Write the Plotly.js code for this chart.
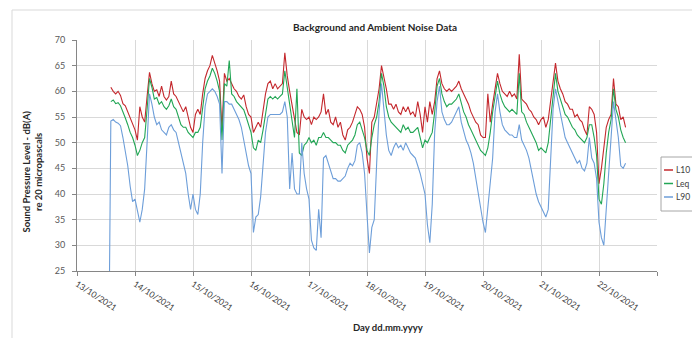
<!DOCTYPE html>
<html>
<head>
<meta charset="utf-8">
<script src="https://cdn.plot.ly/plotly-3.0.1.min.js"></script>
<style>
  html, body { margin: 0; padding: 0; background: #fff; }
  #chart { width: 692px; height: 338px; }
</style>
</head>
<body>
<div id="chart"></div>
<script>
// Hourly noise levels, dB(A), first sample 13/10/2021 13:00
const startTime = '2021-10-13T13:00:00';
const stepHours = 1;

const seriesNames = ['L10', 'Leq', 'L90'];

const l10 = [
  // 13/10 13:00-23:00
  null, 60.8, 60.0, 59.5, 60.0, 59.2, 57.6, 57.2, 56.0, 54.5, 53.5,
  // 14/10
  52.5, 50.5, 57.0, 55.0, 54.0, 59.0, 63.7, 61.5, 60.0, 60.3, 59.0, 61.0,
  59.0, 58.3, 59.0, 62.0, 59.5, 59.0, 58.0, 57.0, 56.0, 57.0, 55.0, 53.0,
  // 15/10
  52.0, 55.5, 56.5, 55.5, 59.5, 62.5, 64.0, 65.0, 67.0, 65.5, 64.0, 62.0,
  52.5, 63.5, 62.0, 62.5, 61.5, 60.5, 60.0, 59.0, 58.5, 59.3, 57.0, 55.5,
  // 16/10
  55.0, 52.0, 53.0, 54.0, 53.0, 56.5, 59.5, 61.5, 62.0, 60.5, 61.5, 60.5,
  61.0, 61.5, 67.5, 63.0, 60.0, 57.5, 55.0, 52.0, 51.5, 56.5, 55.0, 54.5,
  // 17/10
  55.0, 53.5, 55.0, 54.5, 55.0, 56.0, 59.5, 55.5, 56.5, 54.0, 53.5, 55.0,
  53.0, 54.0, 51.5, 50.5, 52.5, 53.0, 54.0, 55.5, 57.0, 56.5, 55.5, 53.0,
  // 18/10
  47.0, 44.0, 54.0, 55.0, 57.5, 60.5, 65.0, 63.0, 60.5, 57.5, 57.5, 56.5,
  57.5, 56.0, 55.5, 57.0, 56.0, 57.0, 55.5, 56.0, 55.0, 58.0, 55.5, 52.0,
  // 19/10
  57.0, 54.0, 58.0, 55.5, 58.0, 62.5, 64.0, 61.5, 60.5, 60.0, 60.5, 60.0,
  60.5, 61.0, 62.0, 60.5, 59.5, 58.5, 57.5, 56.0, 55.0, 54.0, 53.5, 51.5,
  // 20/10
  51.0, 51.0, 59.5, 54.0, 57.5, 61.0, 63.5, 61.5, 60.0, 59.5, 59.0, 60.0,
  59.0, 59.5, 58.5, 67.2, 58.5, 58.0, 57.5, 56.5, 56.0, 55.0, 54.5, 53.5,
  // 21/10
  54.5, 55.0, 53.0, 54.5, 58.5, 62.0, 65.5, 62.0, 60.5, 59.5, 58.0, 57.5,
  56.5, 56.5, 55.0, 55.5, 54.5, 54.0, 52.5, 51.5, 57.0, 56.5, 55.5, 52.0,
  // 22/10 00:00-11:00
  42.0, 45.0, 49.0, 53.0, 54.5, 55.5, 62.5, 57.5, 57.0, 54.5, 55.0, 53.0
];

const leq = [
  // 13/10 13:00-23:00
  null, 58.0, 58.3, 57.6, 57.8, 57.2, 55.8, 54.8, 53.5, 52.0, 51.0,
  // 14/10
  49.5, 47.5, 48.5, 50.0, 51.0, 56.5, 62.5, 60.8, 58.5, 58.8, 57.5, 58.0,
  57.0, 56.5, 57.2, 58.5, 57.0, 56.5, 55.0, 53.5, 53.0, 53.0, 52.0, 51.5,
  // 15/10
  51.0, 52.0, 52.0, 53.0, 57.0, 60.5, 62.0, 63.0, 64.5, 63.5, 62.0, 60.0,
  50.5, 61.5, 61.0, 66.0, 59.5, 59.0, 58.0, 57.5, 57.0, 56.4, 55.0, 53.5,
  // 16/10
  52.0, 49.0, 48.5, 50.5, 50.0, 52.5, 56.0, 58.5, 59.0, 58.5, 59.0, 58.5,
  59.0, 59.5, 64.0, 60.5, 57.0, 54.0, 51.0, 60.5, 48.0, 47.5, 49.5, 50.0,
  // 17/10
  51.0, 50.0, 50.5, 49.5, 51.0, 51.0, 52.0, 51.0, 51.0, 50.5, 50.0, 50.0,
  49.5, 49.5, 48.5, 48.0, 49.5, 50.0, 50.5, 51.5, 53.5, 54.0, 52.5, 51.0,
  // 18/10
  48.5, 47.5, 51.0, 53.5, 55.0, 58.0, 63.5, 61.0, 57.0, 55.0, 54.0, 53.5,
  53.0, 52.5, 52.0, 53.5, 52.5, 53.0, 52.0, 52.0, 52.5, 53.0, 51.0, 49.0,
  // 19/10
  50.5, 50.0, 51.0, 52.0, 56.0, 61.0, 62.5, 59.5, 58.0, 57.0, 57.5, 57.5,
  58.0, 58.5, 59.5, 57.5, 56.0, 55.0, 53.5, 52.5, 51.5, 50.5, 49.5, 48.5,
  // 20/10
  48.0, 47.5, 49.0, 52.0, 56.0, 59.5, 62.0, 59.5, 58.0, 57.0, 56.5, 56.0,
  56.5, 56.0, 55.5, 63.5, 56.0, 55.5, 54.0, 53.0, 52.0, 51.0, 50.0, 48.5,
  // 21/10
  49.0, 48.5, 48.0, 50.0, 55.0, 60.0, 63.5, 60.0, 58.5, 57.0, 55.5, 55.0,
  54.0, 53.0, 52.5, 51.5, 51.0, 50.5, 50.0, 51.0, 53.5, 53.5, 51.0, 47.5,
  // 22/10 00:00-11:00
  39.0, 38.0, 42.0, 48.0, 52.0, 54.5, 60.5, 56.5, 55.0, 52.5, 51.0, 50.0
];

const l90 = [
  // 13/10 13:00-23:00
  0, 54.2, 54.5, 54.0, 53.8, 53.3, 51.0, 48.5, 45.5, 41.5, 38.5,
  // 14/10
  39.0, 36.5, 34.5, 37.0, 41.0, 50.0, 59.5, 57.5, 55.0, 53.5, 54.0, 52.5,
  52.0, 51.5, 53.0, 53.5, 52.5, 52.0, 50.0, 48.0, 46.0, 44.0, 40.0, 37.0,
  // 15/10
  40.0, 37.0, 36.0, 40.0, 50.0, 57.0, 59.5, 60.0, 60.5, 60.0, 59.0, 57.5,
  44.0, 58.0, 58.0, 57.5, 57.5, 56.5, 55.5, 54.5, 53.0, 50.5, 48.5, 45.5,
  // 16/10
  44.0, 32.5, 35.5, 36.0, 39.5, 45.0, 52.0, 55.0, 55.5, 55.5, 55.5, 55.5,
  55.5, 56.0, 58.0, 55.0, 41.0, 48.0, 41.0, 40.0, 40.0, 50.0, 44.0, 41.0,
  // 17/10
  39.0, 31.0, 29.5, 29.0, 37.0, 31.5, 47.0, 47.5, 46.0, 44.5, 43.0, 43.0,
  42.5, 42.5, 43.0, 43.5, 45.0, 46.0, 45.5, 46.5, 49.5, 50.0, 48.0, 44.0,
  // 18/10
  36.0, 28.5, 33.5, 35.0, 46.0, 56.0, 61.5, 56.0, 51.5, 48.5, 47.5, 49.0,
  50.0, 49.0, 49.5, 48.5, 50.0, 49.0, 48.0, 47.5, 47.0, 45.5, 44.0, 42.0,
  // 19/10
  40.0, 34.0, 30.5, 38.0, 52.0, 58.0, 61.0, 56.0, 54.5, 53.5, 53.5, 54.0,
  55.0, 56.0, 57.0, 54.0, 52.0, 50.5, 49.5, 48.0, 46.0, 43.0, 40.0, 37.0,
  // 20/10
  34.5, 32.5, 37.5, 41.5, 47.0, 56.0, 59.5, 56.0, 53.5, 52.5, 52.0, 51.5,
  51.5, 51.0, 51.0, 53.5, 50.5, 49.5, 48.5, 47.0, 44.5, 42.0, 40.0, 38.5,
  // 21/10
  37.5, 36.5, 35.5, 37.0, 46.0, 56.5, 60.5, 58.0, 56.0, 53.0, 51.0, 50.0,
  49.0, 48.0, 47.0, 46.0, 46.5, 45.0, 44.5, 46.0, 51.0, 47.0, 46.0, 43.0,
  // 22/10 00:00-11:00
  34.5, 31.5, 30.0, 37.0, 43.0, 52.0, 58.0, 54.5, 51.0, 45.5, 45.0, 46.0
];

const seriesColors = ['#c4282d', '#22a655', '#6d9ed9'];

// Sample times on the hourly grid
function sampleTimes(n) {
  const t0 = new Date(startTime + 'Z').getTime();
  const out = [];
  for (let i = 0; i < n; i++) {
    out.push(new Date(t0 + i * stepHours * 3600000).toISOString().slice(0, 19).replace('T', ' '));
  }
  return out;
}
const times = sampleTimes(l10.length);

const values = [l10, leq, l90];
const traces = values.map((v, i) => ({
  type: 'scatter',
  mode: 'lines',
  name: seriesNames[i],
  x: times,
  y: v,
  line: { color: seriesColors[i], width: 1.1 },
  showlegend: false,
  hoverinfo: 'x+y+name'
}));

// plot area in pixels: x 77..657, y 40..271
const px = p => (p - 77) / 580;
const py = p => (271 - p) / 231;

const FONT = 'Lato, sans-serif';

const shapes = [
  // outer chart frame
  { type: 'rect', xref: 'paper', yref: 'paper', x0: px(12), x1: px(760), y0: py(400), y1: py(10),
    line: { color: '#d9d9d9', width: 1 }, layer: 'below' },
  // legend frame
  { type: 'rect', xref: 'paper', yref: 'paper', x0: px(661), x1: px(760), y0: py(211), y1: py(157),
    line: { color: '#a6a6a6', width: 1 }, fillcolor: '#ffffff' }
];
const legendRows = [170, 183.5, 197];
const annotations = [
  // axis titles
  { xref: 'paper', yref: 'paper', x: px(388), y: py(327), xanchor: 'center', yanchor: 'middle',
    text: '<b>Day dd.mm.yyyy</b>', showarrow: false,
    font: { family: FONT, size: 9.5, color: '#262626' } },
  { xref: 'paper', yref: 'paper', x: px(31.5), y: py(172), xanchor: 'center', yanchor: 'middle',
    text: '<b>Sound Pressure Level - dB(A)<br>re 20 micropascals</b>', showarrow: false, textangle: -90,
    font: { family: FONT, size: 9.5, color: '#262626' } }
];
seriesNames.forEach((name, i) => {
  shapes.push({ type: 'line', xref: 'paper', yref: 'paper', x0: px(664), x1: px(673),
    y0: py(legendRows[i]), y1: py(legendRows[i]), line: { color: seriesColors[i], width: 1.5 } });
  annotations.push({ xref: 'paper', yref: 'paper', x: px(674), y: py(legendRows[i]),
    xanchor: 'left', yanchor: 'middle', text: name, showarrow: false,
    font: { family: FONT, size: 8.5, color: '#404040' } });
});

const layout = {
  width: 692,
  height: 338,
  margin: { l: 77, r: 35, t: 40, b: 67 },
  paper_bgcolor: '#ffffff',
  plot_bgcolor: '#ffffff',
  font: { family: FONT, color: '#404040' },
  title: {
    text: '<b>Background and Ambient Noise Data</b>',
    font: { family: FONT, size: 10, color: '#262626' },
    x: px(375), xref: 'paper', xanchor: 'center',
    y: 1 - 27 / 338, yref: 'container', yanchor: 'middle'
  },
  xaxis: {
    type: 'date',
    range: ['2021-10-13 00:00', '2021-10-23 00:00'],
    tick0: '2021-10-13',
    dtick: 86400000,
    tickformat: '%d/%m/%Y',
    tickangle: 33,
    ticks: 'outside', ticklen: 4, tickcolor: '#868686',
    showline: true, linecolor: '#868686', linewidth: 1,
    showgrid: true, gridcolor: '#d9d9d9', gridwidth: 1,
    zeroline: false,
    tickfont: { family: FONT, size: 8.5, color: '#404040' },
    automargin: false
  },
  yaxis: {
    range: [25, 70],
    tick0: 25,
    dtick: 5,
    ticks: 'outside', ticklen: 4, tickcolor: '#868686',
    ticklabelstandoff: 5,
    showline: true, linecolor: '#868686', linewidth: 1,
    showgrid: true, gridcolor: '#d9d9d9', gridwidth: 1,
    zeroline: false,
    tickfont: { family: FONT, size: 9, color: '#595959' },
    automargin: false
  },
  shapes: shapes,
  annotations: annotations,
  showlegend: false
};

Plotly.newPlot('chart', traces, layout, { displayModeBar: false, staticPlot: true });
</script>
</body>
</html>
